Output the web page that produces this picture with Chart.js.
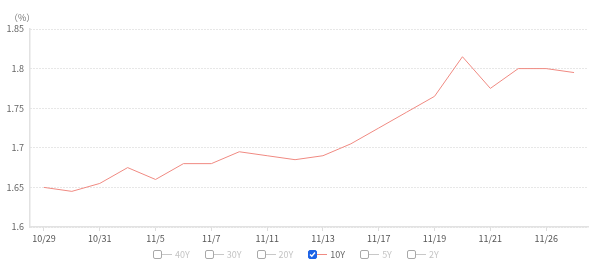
<!DOCTYPE html>
<html>
<head>
<meta charset="utf-8">
<script src="https://cdn.jsdelivr.net/npm/chart.js@4.4.0/dist/chart.umd.min.js"></script>
<style>
  html, body { margin: 0; padding: 0; background: #fff; }
  #wrap { position: relative; width: 600px; height: 270px; font-family: "Noto Sans CJK JP", "Noto Sans", sans-serif; }
  #unit { position: absolute; left: 9px; top: 11px; font-size: 9px; color: #777; }
  #legend { position: absolute; left: 153px; top: 248px; display: flex; align-items: center; font-size: 9px; }
  .item { display: flex; align-items: center; margin-right: 15px; color: #c4c4c4; }
  .box { width: 7px; height: 7px; border: 1px solid #a8a8a8; border-radius: 2px; box-sizing: content-box; position: relative; }
  .box.on { background: #1e63e6; border-color: #1e63e6; }
  .box svg { position: absolute; left: 0; top: 0; }
  .ln { width: 10px; height: 1px; background: #c8c8c8; }
  .txt { margin-left: 3px; }
  .item.on { color: #666; }
  .item.on .ln { background: #f08a82; }
</style>
</head>
<body>
<div id="wrap">
  <canvas id="grafline" width="600" height="270"></canvas>
  <div id="unit">（%）</div>
  <div id="legend"></div>
</div>
<script>
var fechas = ['10/29','10/30','10/31','11/4','11/5','11/6','11/7','11/10','11/11','11/12',
              '11/13','11/14','11/17','11/18','11/19','11/20','11/21','11/25','11/26','11/27'];
var rend10y = [1.65,1.645,1.655,1.675,1.66,1.68,1.68,1.695,1.69,1.685,
               1.69,1.705,1.725,1.745,1.765,1.815,1.775,1.80,1.80,1.795];
var series = ['40Y','30Y','20Y','10Y','5Y','2Y'];
var activa = '10Y';
var yTicks = [1.6, 1.65, 1.7, 1.75, 1.8, 1.85];

// leyenda
var leg = document.getElementById('legend');
for (var i in series){
    var on = series[i] == activa;
    var it = document.createElement('div');
    it.className = 'item' + (on ? ' on' : '');
    it.innerHTML = '<span class="box' + (on ? ' on' : '') + '">' +
        (on ? '<svg width="7" height="7" viewBox="0 0 7 7"><path d="M1 3.6 L2.8 5.3 L6 1.5" stroke="#fff" stroke-width="1.4" fill="none"/></svg>' : '') +
        '</span><span class="ln"></span><span class="txt">' + series[i] + '</span>';
    leg.appendChild(it);
}

var ctx = document.getElementById('grafline');
var lineChart = new Chart(ctx, {
    type: 'line',
    data: {
        labels: fechas,
        datasets: [{
            label: activa,
            data: rend10y,
            borderColor: '#f08a82',
            borderWidth: 1,
            pointRadius: 0,
            tension: 0,
            fill: false
        }]
    },
    options: {
        responsive: false,
        animation: false,
        layout: { padding: { top: 29, right: 12, bottom: 13, left: 0 } },
        plugins: { legend: { display: false }, tooltip: { enabled: false } },
        scales: {
            x: {
                offset: true,
                grid: { offset: false, drawOnChartArea: false, color: '#ddd', tickLength: 4 },
                border: { color: '#e2e2e2', width: 1.5 },
                ticks: {
                    autoSkip: false, maxRotation: 0, padding: 2,
                    color: '#555', font: { size: 9, family: '"Noto Sans CJK JP", "Noto Sans", sans-serif' },
                    callback: function(v, i){ return i % 2 == 0 ? fechas[i] : null; }
                },
                afterFit: function(a){ a.height = 30; }
            },
            y: {
                min: 1.6, max: 1.85,
                afterBuildTicks: function(a){ a.ticks = yTicks.map(function(v){ return { value: v }; }); },
                grid: { color: '#cfcfcf', tickLength: 0 },
                border: { color: '#e2e2e2', width: 1.5, dash: [1, 2] },
                ticks: {
                    padding: 6, color: '#666',
                    font: { size: 9, family: '"Noto Sans CJK JP", "Noto Sans", sans-serif' },
                    callback: function(v){ return String(v); }
                },
                afterFit: function(a){ a.width = 30; }
            }
        }
    }
});
</script>
</body>
</html>
